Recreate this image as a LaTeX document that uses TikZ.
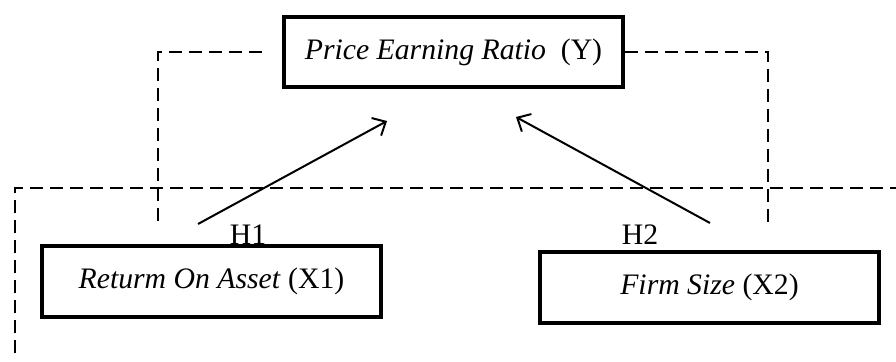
\documentclass[tikz,border=0pt]{standalone}
\usepackage{fontspec}
\setmainfont{Liberation Serif}
\usetikzlibrary{arrows.meta,positioning}
\tikzset{
    %Define standard arrow tip
    >={Straight Barb[length=8pt,width=15pt,line width=1.5pt]},
    %Define style for boxes
    varbox/.style={
           rectangle,
           draw=black, line width=3pt,
           minimum width=254pt,
           minimum height=53pt,
           font=\fontsize{22.3}{26}\selectfont},
    %Define style for hypothesis labels
    hyp/.style={
           inner sep=0pt,
           font=\fontsize{22.3}{26}\selectfont},
    % Define arrow style
    imply/.style={
           ->,
           line width=1.5pt},
    frame/.style={
           line width=1pt,
           dash pattern=on 10pt off 5pt},
}
\begin{document}
\begin{tikzpicture}[x=0.75pt, y=-0.75pt]
    \useasboundingbox (0,0) rectangle (896,361);
 %nodes
    \node[varbox] (per) at (453.5,52) {\textit{Price Earning Ratio}\enspace(Y)};
    \node[varbox] (roa) at (211.5,281.5) {\textit{Returm On Asset} (X1)};
    \node[varbox] (size) at (709.5,287.5) {\textit{Firm Size} (X2)};
    \node[hyp] (h1) at (248,235) {H1};
    \node[hyp] (h2) at (640,235) {H2};
 %points
    \coordinate (l0) at (262,52);
    \coordinate (l1) at (158,52);
    \coordinate (l2) at (158,223);
    \coordinate (r1) at (768,52);
    \coordinate (r2) at (768,223);
    \coordinate (f0) at (15,353);
    \coordinate (f1) at (15,188);
    \coordinate (f2) at (896,188);
    \coordinate (a1s) at (198,224);
    \coordinate (a1e) at (387,121);
    \coordinate (a2s) at (710,223);
    \coordinate (a2e) at (516,117);
 %edges
    \draw[frame] (l0) -- (l1) -- (l2);
    \draw[frame] (per.east) -- (r1) -- (r2);
    \draw[frame] (f0) -- (f1) -- (f2);
    \draw[imply] (a1s) -- (a1e);
    \draw[imply] (a2s) -- (a2e);
\end{tikzpicture}
\end{document}
